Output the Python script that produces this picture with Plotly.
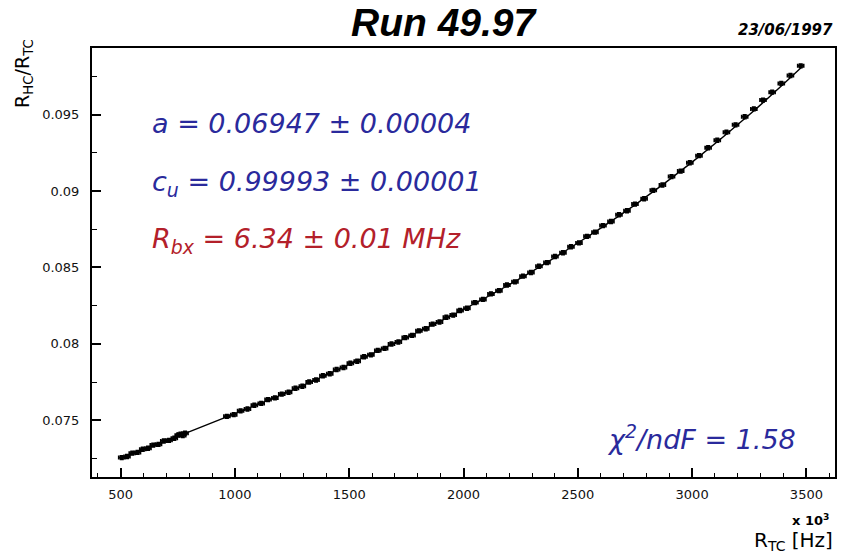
import plotly.graph_objects as go

# ---- data ----
x_low = [505, 528, 551, 574, 597, 620, 643, 666, 689, 712, 735, 752, 762, 772, 782]
y_low = [0.07255, 0.07262, 0.07284, 0.07289, 0.07310, 0.07316, 0.07337, 0.07342,
         0.07364, 0.07368, 0.07382, 0.07402, 0.07408, 0.07400, 0.07415]

x_high = [965, 995, 1025, 1055, 1085, 1115, 1145, 1175, 1205, 1235, 1265, 1295, 1325,
          1355, 1385, 1415, 1445, 1475, 1505, 1535, 1565, 1595, 1625, 1655, 1685, 1715,
          1745, 1775, 1805, 1835, 1865, 1895, 1925, 1955, 1985, 2015, 2050, 2085, 2120,
          2155, 2190, 2225, 2260, 2295, 2330, 2365, 2400, 2435, 2470, 2505, 2540, 2575,
          2610, 2645, 2680, 2715, 2750, 2790, 2830, 2870, 2910, 2950, 2990, 3030, 3070,
          3110, 3150, 3190, 3230, 3270, 3310, 3350, 3390, 3430, 3475]
y_high = [0.07525, 0.07536, 0.07561, 0.07573, 0.07598, 0.07610, 0.07635, 0.07646, 0.07671,
          0.07683, 0.07709, 0.07722, 0.07750, 0.07763, 0.07791, 0.07804, 0.07832, 0.07845,
          0.07873, 0.07886, 0.07915, 0.07928, 0.07957, 0.07970, 0.07999, 0.08012, 0.08041,
          0.08055, 0.08085, 0.08099, 0.08129, 0.08143, 0.08174, 0.08188, 0.08218, 0.08233,
          0.08270, 0.08291, 0.08327, 0.08348, 0.08385, 0.08406, 0.08443, 0.08467, 0.08508,
          0.08532, 0.08572, 0.08596, 0.08636, 0.08661, 0.08704, 0.08731, 0.08774, 0.08801,
          0.08845, 0.08871, 0.08915, 0.08950, 0.09005, 0.09040, 0.09095, 0.09131, 0.09186,
          0.09232, 0.09284, 0.09333, 0.09386, 0.09434, 0.09487, 0.09538, 0.09596, 0.09648,
          0.09705, 0.09757, 0.09820]

x_err = 13
y_err = 0.00012

fit_x = [500, 750, 1000, 1250, 1500, 1750, 2000, 2250, 2500, 2750, 3000, 3250, 3480]
fit_y = [0.07250, 0.07394, 0.07543, 0.07695, 0.07866, 0.08040, 0.08225, 0.08430,
         0.08660, 0.08910, 0.09190, 0.09500, 0.09813]

x_ticks = [500, 1000, 1500, 2000, 2500, 3000, 3500]
x_tick_labels = ["500", "1000", "1500", "2000", "2500", "3000", "3500"]
y_ticks = [0.075, 0.08, 0.085, 0.09, 0.095]
y_tick_labels = ["0.075", "0.08", "0.085", "0.09", "0.095"]

LIB = "Liberation Sans, Arial, Helvetica, sans-serif"
DJV = "DejaVu Sans, Verdana, sans-serif"
BLUE = "#2a2a9c"
RED = "#b3202a"
INK = "#111111"

fig = go.Figure()
fig.add_trace(go.Scatter(
    x=fit_x, y=fit_y, mode="lines", line=dict(color="black", width=1.4, shape="spline"),
    hoverinfo="skip", showlegend=False))
fig.add_trace(go.Scatter(
    x=x_low + x_high, y=y_low + y_high, mode="markers",
    marker=dict(color="black", size=4, symbol="square"),
    error_x=dict(type="constant", value=x_err, color="black", thickness=1.7, width=2),
    error_y=dict(type="constant", value=y_err, color="black", thickness=1.7, width=2),
    showlegend=False))

fig.update_layout(
    width=841, height=553,
    margin=dict(l=92, r=4, t=48, b=76),
    paper_bgcolor="white", plot_bgcolor="white",
    font=dict(family=DJV, color=INK),
    xaxis=dict(
        range=[375, 3625], tickvals=x_ticks, ticktext=x_tick_labels,
        ticks="inside", ticklen=9, tickwidth=1.6, tickcolor="black",
        minor=dict(ticks="inside", ticklen=4, tickwidth=1.3, tickcolor="black", dtick=100, tick0=0),
        showline=True, linecolor="black", linewidth=2, mirror=True,
        showgrid=False, zeroline=False,
        tickfont=dict(family=DJV, size=13, color=INK),
        ticklabelstandoff=4,
    ),
    yaxis=dict(
        range=[0.07128, 0.09937], tickvals=y_ticks, ticktext=y_tick_labels,
        ticks="inside", ticklen=9, tickwidth=1.6, tickcolor="black",
        minor=dict(ticks="inside", ticklen=5, tickwidth=1.3, tickcolor="black", dtick=0.0025, tick0=0.07),
        showline=True, linecolor="black", linewidth=2, mirror=True,
        showgrid=False, zeroline=False,
        tickfont=dict(family=DJV, size=13, color=INK),
        ticklabelstandoff=8,
    ),
)

ann = []
ann.append(dict(text="<b><i>Run 49.97</i></b>", x=0.474, y=1.059, xref="paper", yref="paper",
                xanchor="center", yanchor="middle", showarrow=False,
                font=dict(family=LIB, size=39, color="black")))
ann.append(dict(text="<b><i>23/06/1997</i></b>", x=1.0, y=1.042, xref="paper", yref="paper",
                xanchor="right", yanchor="middle", showarrow=False,
                font=dict(family=DJV, size=15, color="black")))
ann.append(dict(text="<i>a = 0.06947 ± 0.00004</i>", x=0.078, y=0.823, xref="paper", yref="paper",
                xanchor="left", yanchor="middle", showarrow=False,
                font=dict(family=DJV, size=27, color=BLUE)))
ann.append(dict(text="<i>c<sub>u</sub> = 0.99993 ± 0.00001</i>", x=0.078, y=0.685, xref="paper", yref="paper",
                xanchor="left", yanchor="middle", showarrow=False,
                font=dict(family=DJV, size=27, color=BLUE)))
ann.append(dict(text="<i>R<sub>bx</sub> = 6.34 ± 0.01 MHz</i>", x=0.078, y=0.552, xref="paper", yref="paper",
                xanchor="left", yanchor="middle", showarrow=False,
                font=dict(family=DJV, size=27, color=RED)))
ann.append(dict(text="<i>χ<sup>2</sup>/ndF = 1.58</i>", x=0.95, y=0.091, xref="paper", yref="paper",
                xanchor="right", yanchor="middle", showarrow=False,
                font=dict(family=DJV, size=27, color=BLUE)))
ann.append(dict(text="R<sub>HC</sub>/R<sub>TC</sub>", x=-0.0913, y=0.94, xref="paper", yref="paper",
                xanchor="center", yanchor="middle", textangle=-90, showarrow=False,
                font=dict(family=DJV, size=19, color="black")))
ann.append(dict(text="<b>x 10<sup>3</sup></b>", x=0.995, y=-0.100, xref="paper", yref="paper",
                xanchor="right", yanchor="middle", showarrow=False,
                font=dict(family=DJV, size=13, color="black")))
ann.append(dict(text="R<sub>TC</sub> [Hz]", x=1.0, y=-0.150, xref="paper", yref="paper",
                xanchor="right", yanchor="middle", showarrow=False,
                font=dict(family=DJV, size=20, color="black")))
fig.update_layout(annotations=ann)

fig.write_html("out.html")
